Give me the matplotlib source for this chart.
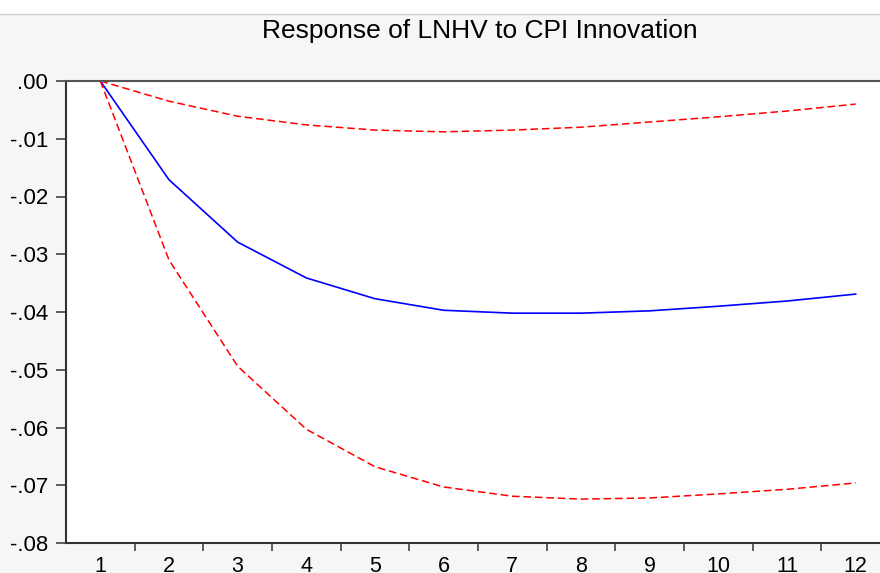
import matplotlib.pyplot as plt
from matplotlib.patches import Rectangle
from matplotlib.lines import Line2D

plt.rcParams['font.family'] = ['Liberation Sans', 'DejaVu Sans']

periods = [1, 2, 3, 4, 5, 6, 7, 8, 9, 10, 11, 12]
response = [0.0, -0.0171, -0.0279, -0.0341, -0.0377, -0.0397, -0.0402, -0.0402, -0.0398, -0.0390, -0.0381, -0.0369]
upper = [0.0, -0.0035, -0.0061, -0.0076, -0.0085, -0.0088, -0.0085, -0.0080, -0.0071, -0.0062, -0.0052, -0.0040]
lower = [0.0, -0.0310, -0.0494, -0.0603, -0.0668, -0.0703, -0.0719, -0.0724, -0.0722, -0.0715, -0.0707, -0.0696]
yticks = [0.0, -0.01, -0.02, -0.03, -0.04, -0.05, -0.06, -0.07, -0.08]
ylabels = ['.00', '-.01', '-.02', '-.03', '-.04', '-.05', '-.06', '-.07', '-.08']

fig = plt.figure(figsize=(8.8, 5.73), dpi=100)
fig.patch.set_facecolor('#f5f6f8')
# white strip on top with grey rule
fig.patches.append(Rectangle((0, 1 - 14/573), 1, 14/573, transform=fig.transFigure,
                             facecolor='white', edgecolor='none', zorder=0))
fig.lines.append(Line2D([0, 1], [1 - 14/573, 1 - 14/573], transform=fig.transFigure,
                        color='#d0d0d0', lw=1))

ax = fig.add_axes([66/880, 30/573, 824/880, 462/573])
ax.set_facecolor('white')
ax.plot(periods, response, color='blue', lw=1.2)
ax.plot(periods, upper, color='red', lw=1.1, dashes=(5, 2.5))
ax.plot(periods, lower, color='red', lw=1.1, dashes=(5, 2.5))

ax.set_xlim(0.5, 12.5)
ax.set_ylim(-0.08, 0.0)
ax.set_xticks(periods)
ax.set_xticklabels([str(p) for p in periods], fontsize=15.5)
ax.set_xticks([p + 0.5 for p in periods[:-1]], minor=True)
ax.tick_params(axis='x', which='major', length=0, pad=9)
ax.tick_params(axis='x', which='minor', length=6, width=1.2, color='#444444', direction='out')
ax.set_yticks(yticks)
ax.set_yticklabels(ylabels, fontsize=16)
ax.tick_params(axis='y', length=7, width=1.2, color='#444444', pad=6)

for s in ['left', 'bottom']:
    ax.spines[s].set_color('#333333')
    ax.spines[s].set_linewidth(1.5)
ax.spines['top'].set_color('#555555')
ax.spines['top'].set_linewidth(1.5)
ax.spines['right'].set_visible(False)

fig.text(480/880, 1 - 31/573, 'Response of LNHV to CPI Innovation', ha='center', va='center', fontsize=19)

plt.savefig('out.png', dpi=100, facecolor=fig.get_facecolor())
